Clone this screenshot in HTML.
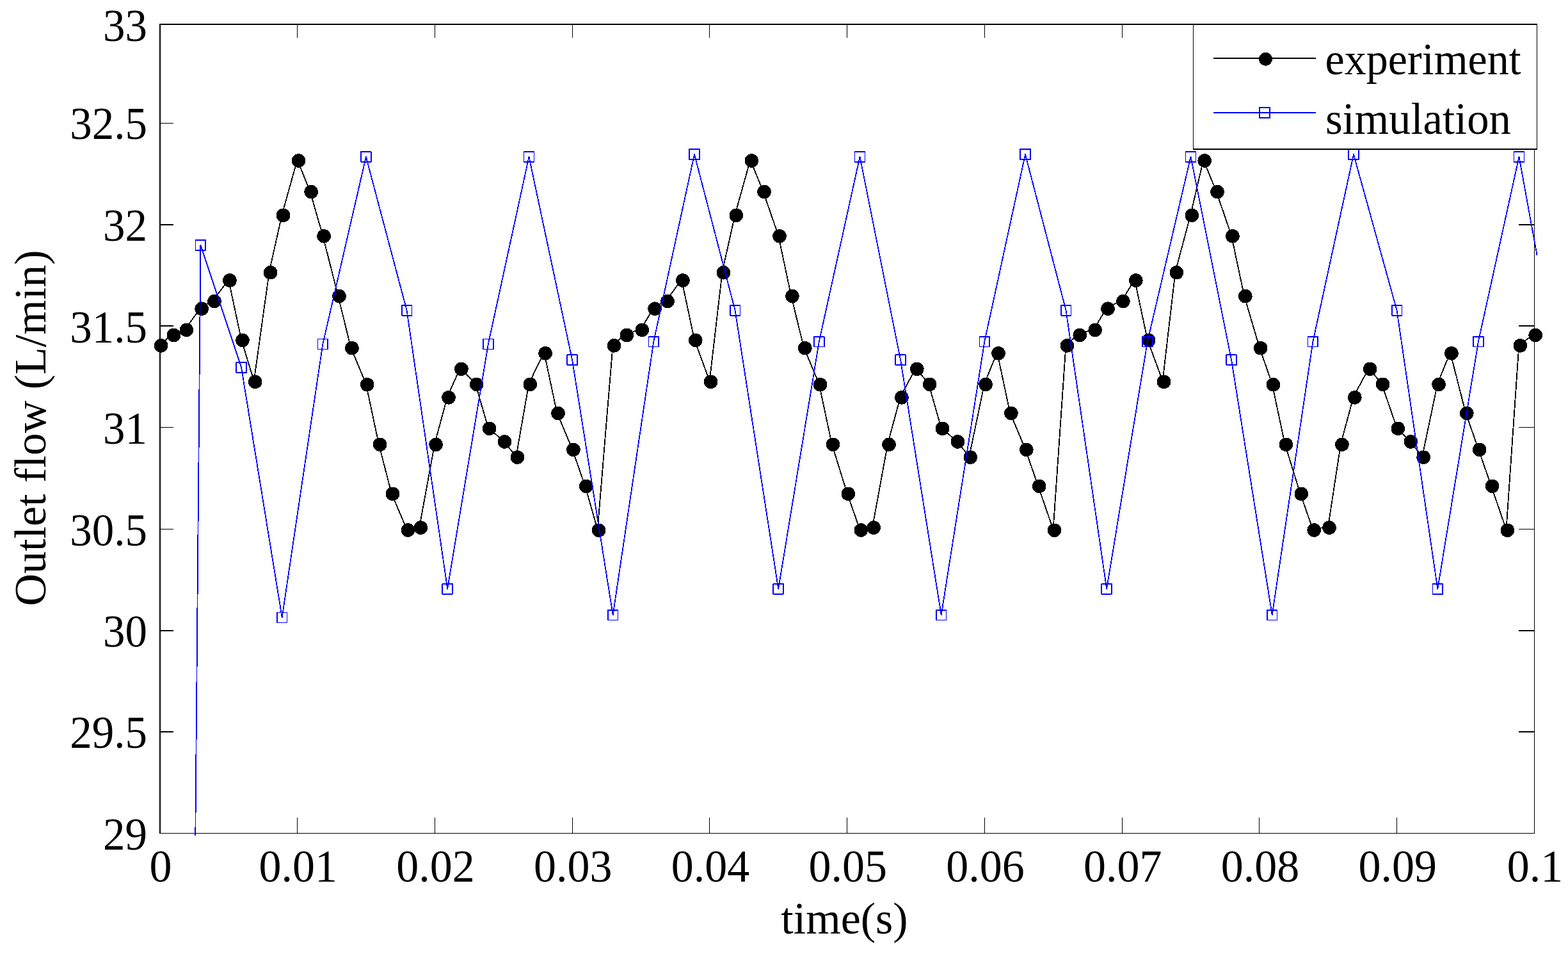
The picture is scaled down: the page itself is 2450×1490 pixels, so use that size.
<!DOCTYPE html>
<html lang="en"><head><meta charset="utf-8"><title>Outlet flow: experiment vs simulation</title>
<style>html,body{margin:0;padding:0;background:#fff}body{width:2450px;height:1490px}svg{display:block}text{font-family:"Liberation Serif","Times New Roman",Times,serif;font-size:70px;fill:#000}</style>
</head><body>
<svg width="2450" height="1490" viewBox="0 0 2450 1490">
<rect x="0" y="0" width="2450" height="1490" fill="#fff"/>
<g fill="#000" shape-rendering="crispEdges">
<rect x="249" y="37" width="2" height="1265"/>
<rect x="249" y="37" width="2153" height="2"/>
<rect x="249" y="1301" width="2149" height="1"/>
<rect x="2397" y="37" width="1" height="1265"/>
<rect x="251" y="192" width="20" height="1"/>
<rect x="2373" y="192" width="24" height="1"/>
<rect x="251" y="350" width="20" height="2"/>
<rect x="2373" y="350" width="24" height="2"/>
<rect x="251" y="508" width="20" height="2"/>
<rect x="2373" y="508" width="24" height="2"/>
<rect x="251" y="667" width="20" height="1"/>
<rect x="2373" y="667" width="24" height="1"/>
<rect x="251" y="826" width="20" height="1"/>
<rect x="2373" y="826" width="24" height="1"/>
<rect x="251" y="984" width="20" height="2"/>
<rect x="2373" y="984" width="24" height="2"/>
<rect x="251" y="1142" width="20" height="2"/>
<rect x="2373" y="1142" width="24" height="2"/>
<rect x="464" y="1277" width="1" height="24"/>
<rect x="464" y="39" width="1" height="20"/>
<rect x="679" y="1277" width="1" height="24"/>
<rect x="679" y="39" width="1" height="20"/>
<rect x="894" y="1277" width="1" height="24"/>
<rect x="894" y="39" width="1" height="20"/>
<rect x="1108" y="1277" width="1" height="24"/>
<rect x="1108" y="39" width="1" height="20"/>
<rect x="1323" y="1277" width="1" height="24"/>
<rect x="1323" y="39" width="1" height="20"/>
<rect x="1538" y="1277" width="1" height="24"/>
<rect x="1538" y="39" width="1" height="20"/>
<rect x="1753" y="1277" width="1" height="24"/>
<rect x="1753" y="39" width="1" height="20"/>
<rect x="1967" y="1277" width="1" height="24"/>
<rect x="1967" y="39" width="1" height="20"/>
<rect x="2182" y="1277" width="1" height="24"/>
<rect x="2182" y="39" width="1" height="20"/>
</g>
<g fill="none" stroke-linejoin="round" shape-rendering="crispEdges">
<polyline points="249.7,538.5 269.6,522.2 289.5,514.1 313.3,480.9 333.2,469.3 357.1,436.7 377.0,530.2 396.8,595.1 420.7,424.4 440.6,335.1 464.5,249.7 484.3,298.4 504.2,367.5 528.1,461.3 548.0,542.4 571.8,599.4 591.7,693.0 611.6,770.1 635.5,826.7 655.4,822.8 679.2,693.0 699.1,619.5 719.0,575.0 742.8,599.0 762.7,668.1 786.6,688.6 806.5,712.9 826.4,599.0 850.2,550.5 870.1,644.1 894.0,701.0 913.9,758.1 933.7,827.0 957.6,538.5 977.5,522.2 1001.4,514.1 1021.2,480.9 1041.1,469.3 1065.0,436.7 1084.9,530.2 1108.7,595.1 1128.6,424.4 1148.5,335.1 1172.4,249.7 1192.2,298.4 1216.1,367.5 1236.0,461.3 1255.9,542.4 1279.7,599.4 1299.6,693.0 1323.5,770.1 1343.4,826.7 1363.3,822.8 1387.1,693.0 1407.0,619.5 1430.9,575.0 1450.8,599.0 1470.6,668.1 1494.5,688.6 1514.4,712.9 1538.2,599.0 1558.1,550.5 1578.0,644.1 1601.9,701.0 1621.8,758.1 1645.6,827.0 1665.5,538.5 1685.4,522.2 1709.3,514.1 1729.1,480.9 1753.0,469.3 1772.9,436.7 1792.8,530.2 1816.6,595.1 1836.5,424.4 1860.4,335.1 1880.3,249.7 1900.2,298.4 1924.0,367.5 1943.9,461.3 1967.8,542.4 1987.6,599.4 2007.5,693.0 2031.4,770.1 2051.3,826.7 2075.1,822.8 2095.0,693.0 2114.9,619.5 2138.8,575.0 2158.7,599.0 2182.5,668.1 2202.4,688.6 2222.3,712.9 2246.2,599.0 2266.0,550.5 2289.9,644.1 2309.8,701.0 2329.7,758.1 2353.5,827.0 2373.4,538.5 2397.3,522.2" stroke="#000" stroke-width="1.8"/>
<g fill="#000" stroke="none">
<circle cx="251.6" cy="539.8" r="10.8"/>
<circle cx="271.5" cy="523.5" r="10.8"/>
<circle cx="291.4" cy="515.4" r="10.8"/>
<circle cx="315.2" cy="482.2" r="10.8"/>
<circle cx="335.1" cy="470.6" r="10.8"/>
<circle cx="359.0" cy="438.0" r="10.8"/>
<circle cx="378.9" cy="531.5" r="10.8"/>
<circle cx="398.7" cy="596.4" r="10.8"/>
<circle cx="422.6" cy="425.7" r="10.8"/>
<circle cx="442.5" cy="336.4" r="10.8"/>
<circle cx="466.4" cy="251.0" r="10.8"/>
<circle cx="486.2" cy="299.7" r="10.8"/>
<circle cx="506.1" cy="368.8" r="10.8"/>
<circle cx="530.0" cy="462.6" r="10.8"/>
<circle cx="549.9" cy="543.7" r="10.8"/>
<circle cx="573.7" cy="600.7" r="10.8"/>
<circle cx="593.6" cy="694.3" r="10.8"/>
<circle cx="613.5" cy="771.4" r="10.8"/>
<circle cx="637.4" cy="828.0" r="10.8"/>
<circle cx="657.3" cy="824.1" r="10.8"/>
<circle cx="681.1" cy="694.3" r="10.8"/>
<circle cx="701.0" cy="620.8" r="10.8"/>
<circle cx="720.9" cy="576.3" r="10.8"/>
<circle cx="744.7" cy="600.3" r="10.8"/>
<circle cx="764.6" cy="669.4" r="10.8"/>
<circle cx="788.5" cy="689.9" r="10.8"/>
<circle cx="808.4" cy="714.2" r="10.8"/>
<circle cx="828.3" cy="600.3" r="10.8"/>
<circle cx="852.1" cy="551.8" r="10.8"/>
<circle cx="872.0" cy="645.4" r="10.8"/>
<circle cx="895.9" cy="702.3" r="10.8"/>
<circle cx="915.8" cy="759.4" r="10.8"/>
<circle cx="935.6" cy="828.3" r="10.8"/>
<circle cx="959.5" cy="539.8" r="10.8"/>
<circle cx="979.4" cy="523.5" r="10.8"/>
<circle cx="1003.3" cy="515.4" r="10.8"/>
<circle cx="1023.1" cy="482.2" r="10.8"/>
<circle cx="1043.0" cy="470.6" r="10.8"/>
<circle cx="1066.9" cy="438.0" r="10.8"/>
<circle cx="1086.8" cy="531.5" r="10.8"/>
<circle cx="1110.6" cy="596.4" r="10.8"/>
<circle cx="1130.5" cy="425.7" r="10.8"/>
<circle cx="1150.4" cy="336.4" r="10.8"/>
<circle cx="1174.3" cy="251.0" r="10.8"/>
<circle cx="1194.1" cy="299.7" r="10.8"/>
<circle cx="1218.0" cy="368.8" r="10.8"/>
<circle cx="1237.9" cy="462.6" r="10.8"/>
<circle cx="1257.8" cy="543.7" r="10.8"/>
<circle cx="1281.6" cy="600.7" r="10.8"/>
<circle cx="1301.5" cy="694.3" r="10.8"/>
<circle cx="1325.4" cy="771.4" r="10.8"/>
<circle cx="1345.3" cy="828.0" r="10.8"/>
<circle cx="1365.2" cy="824.1" r="10.8"/>
<circle cx="1389.0" cy="694.3" r="10.8"/>
<circle cx="1408.9" cy="620.8" r="10.8"/>
<circle cx="1432.8" cy="576.3" r="10.8"/>
<circle cx="1452.7" cy="600.3" r="10.8"/>
<circle cx="1472.5" cy="669.4" r="10.8"/>
<circle cx="1496.4" cy="689.9" r="10.8"/>
<circle cx="1516.3" cy="714.2" r="10.8"/>
<circle cx="1540.1" cy="600.3" r="10.8"/>
<circle cx="1560.0" cy="551.8" r="10.8"/>
<circle cx="1579.9" cy="645.4" r="10.8"/>
<circle cx="1603.8" cy="702.3" r="10.8"/>
<circle cx="1623.7" cy="759.4" r="10.8"/>
<circle cx="1647.5" cy="828.3" r="10.8"/>
<circle cx="1667.4" cy="539.8" r="10.8"/>
<circle cx="1687.3" cy="523.5" r="10.8"/>
<circle cx="1711.2" cy="515.4" r="10.8"/>
<circle cx="1731.0" cy="482.2" r="10.8"/>
<circle cx="1754.9" cy="470.6" r="10.8"/>
<circle cx="1774.8" cy="438.0" r="10.8"/>
<circle cx="1794.7" cy="531.5" r="10.8"/>
<circle cx="1818.5" cy="596.4" r="10.8"/>
<circle cx="1838.4" cy="425.7" r="10.8"/>
<circle cx="1862.3" cy="336.4" r="10.8"/>
<circle cx="1882.2" cy="251.0" r="10.8"/>
<circle cx="1902.1" cy="299.7" r="10.8"/>
<circle cx="1925.9" cy="368.8" r="10.8"/>
<circle cx="1945.8" cy="462.6" r="10.8"/>
<circle cx="1969.7" cy="543.7" r="10.8"/>
<circle cx="1989.5" cy="600.7" r="10.8"/>
<circle cx="2009.4" cy="694.3" r="10.8"/>
<circle cx="2033.3" cy="771.4" r="10.8"/>
<circle cx="2053.2" cy="828.0" r="10.8"/>
<circle cx="2077.0" cy="824.1" r="10.8"/>
<circle cx="2096.9" cy="694.3" r="10.8"/>
<circle cx="2116.8" cy="620.8" r="10.8"/>
<circle cx="2140.7" cy="576.3" r="10.8"/>
<circle cx="2160.6" cy="600.3" r="10.8"/>
<circle cx="2184.4" cy="669.4" r="10.8"/>
<circle cx="2204.3" cy="689.9" r="10.8"/>
<circle cx="2224.2" cy="714.2" r="10.8"/>
<circle cx="2248.1" cy="600.3" r="10.8"/>
<circle cx="2267.9" cy="551.8" r="10.8"/>
<circle cx="2291.8" cy="645.4" r="10.8"/>
<circle cx="2311.7" cy="702.3" r="10.8"/>
<circle cx="2331.6" cy="759.4" r="10.8"/>
<circle cx="2355.4" cy="828.3" r="10.8"/>
<circle cx="2375.3" cy="539.8" r="10.8"/>
<circle cx="2399.2" cy="523.5" r="10.8"/>
</g>
<polyline points="305.3,1305.0 313.4,383.0 377.1,574.0 440.7,964.5 504.3,537.5 571.9,244.9 635.6,484.8 699.2,919.8 762.8,537.5 826.5,244.9 894.1,562.1 957.7,960.6 1021.3,533.6 1085.0,241.0 1148.6,484.8 1216.2,919.9 1279.8,533.6 1343.5,244.9 1407.1,562.1 1470.7,960.6 1538.3,533.6 1602.0,241.0 1665.6,484.8 1729.2,919.9 1792.9,533.6 1860.5,244.9 1924.1,562.1 1987.7,960.6 2051.4,533.6 2115.0,241.0 2182.6,484.8 2246.3,919.9 2309.9,533.6 2373.5,244.9 2401.7,399.3" stroke="#00f" stroke-width="1.8"/>
<g stroke="#00f" stroke-width="1.7">
<rect x="305.5" y="375.1" width="15.8" height="15.8"/>
<rect x="369.2" y="566.1" width="15.8" height="15.8"/>
<rect x="432.8" y="956.6" width="15.8" height="15.8"/>
<rect x="496.4" y="529.6" width="15.8" height="15.8"/>
<rect x="564.0" y="237.0" width="15.8" height="15.8"/>
<rect x="627.7" y="476.9" width="15.8" height="15.8"/>
<rect x="691.3" y="911.9" width="15.8" height="15.8"/>
<rect x="754.9" y="529.6" width="15.8" height="15.8"/>
<rect x="818.6" y="237.0" width="15.8" height="15.8"/>
<rect x="886.2" y="554.2" width="15.8" height="15.8"/>
<rect x="949.8" y="952.7" width="15.8" height="15.8"/>
<rect x="1013.4" y="525.7" width="15.8" height="15.8"/>
<rect x="1077.1" y="233.1" width="15.8" height="15.8"/>
<rect x="1140.7" y="476.9" width="15.8" height="15.8"/>
<rect x="1208.3" y="912.0" width="15.8" height="15.8"/>
<rect x="1271.9" y="525.7" width="15.8" height="15.8"/>
<rect x="1335.6" y="237.0" width="15.8" height="15.8"/>
<rect x="1399.2" y="554.2" width="15.8" height="15.8"/>
<rect x="1462.8" y="952.7" width="15.8" height="15.8"/>
<rect x="1530.4" y="525.7" width="15.8" height="15.8"/>
<rect x="1594.1" y="233.1" width="15.8" height="15.8"/>
<rect x="1657.7" y="476.9" width="15.8" height="15.8"/>
<rect x="1721.3" y="912.0" width="15.8" height="15.8"/>
<rect x="1785.0" y="525.7" width="15.8" height="15.8"/>
<rect x="1852.6" y="237.0" width="15.8" height="15.8"/>
<rect x="1916.2" y="554.2" width="15.8" height="15.8"/>
<rect x="1979.8" y="952.7" width="15.8" height="15.8"/>
<rect x="2043.5" y="525.7" width="15.8" height="15.8"/>
<rect x="2107.1" y="233.1" width="15.8" height="15.8"/>
<rect x="2174.7" y="476.9" width="15.8" height="15.8"/>
<rect x="2238.4" y="912.0" width="15.8" height="15.8"/>
<rect x="2302.0" y="525.7" width="15.8" height="15.8"/>
<rect x="2365.6" y="237.0" width="15.8" height="15.8"/>
</g>
</g>
<g shape-rendering="crispEdges">
<rect x="1864" y="37" width="538" height="197" fill="#fff"/>
<g fill="#000">
<rect x="1864" y="37" width="538" height="2"/>
<rect x="1864" y="232" width="538" height="2"/>
<rect x="1864" y="37" width="1" height="197"/>
<rect x="2401" y="37" width="1" height="197"/>
<rect x="1896" y="90" width="160" height="2"/>
</g>
<circle cx="1977.6" cy="92.3" r="10.5" fill="#000"/>
<rect x="1896" y="175" width="160" height="2" fill="#00f"/>
<rect x="1968.2" y="168" width="15.8" height="15.8" fill="none" stroke="#00f" stroke-width="1.8"/>
</g>
<g>
<text transform="translate(2070.6,116.3) scale(0.9725,1)">experiment</text>
<text transform="translate(2070.9,209.0) scale(0.981,1)">simulation</text>
<text transform="translate(230,63.7) scale(0.985,1.02)" text-anchor="end">33</text>
<text transform="translate(230,217.4) scale(0.985,1.02)" text-anchor="end">32.5</text>
<text transform="translate(230,376.4) scale(0.985,1.02)" text-anchor="end">32</text>
<text transform="translate(230,535.4) scale(0.985,1.02)" text-anchor="end">31.5</text>
<text transform="translate(230,692.9) scale(0.985,1.02)" text-anchor="end">31</text>
<text transform="translate(230,851.9) scale(0.985,1.02)" text-anchor="end">30.5</text>
<text transform="translate(230,1010.4) scale(0.985,1.02)" text-anchor="end">30</text>
<text transform="translate(230,1168.4) scale(0.985,1.02)" text-anchor="end">29.5</text>
<text transform="translate(230,1327.4) scale(0.985,1.02)" text-anchor="end">29</text>
<text transform="translate(251.0,1376.5) scale(1,1.02)" text-anchor="middle">0</text>
<text transform="translate(465.8,1376.5) scale(1,1.02)" text-anchor="middle">0.01</text>
<text transform="translate(680.5,1376.5) scale(1,1.02)" text-anchor="middle">0.02</text>
<text transform="translate(895.2,1376.5) scale(1,1.02)" text-anchor="middle">0.03</text>
<text transform="translate(1110.0,1376.5) scale(1,1.02)" text-anchor="middle">0.04</text>
<text transform="translate(1324.8,1376.5) scale(1,1.02)" text-anchor="middle">0.05</text>
<text transform="translate(1539.5,1376.5) scale(1,1.02)" text-anchor="middle">0.06</text>
<text transform="translate(1754.2,1376.5) scale(1,1.02)" text-anchor="middle">0.07</text>
<text transform="translate(1969.0,1376.5) scale(1,1.02)" text-anchor="middle">0.08</text>
<text transform="translate(2183.8,1376.5) scale(1,1.02)" text-anchor="middle">0.09</text>
<text transform="translate(2398.5,1376.5) scale(1,1.02)" text-anchor="middle">0.1</text>
<text x="1319.5" y="1457.6" text-anchor="middle">time(s)</text>
<text transform="translate(71,668.5) rotate(-90)" text-anchor="middle">Outlet flow (L/min)</text>
</g>
</svg>
</body></html>
